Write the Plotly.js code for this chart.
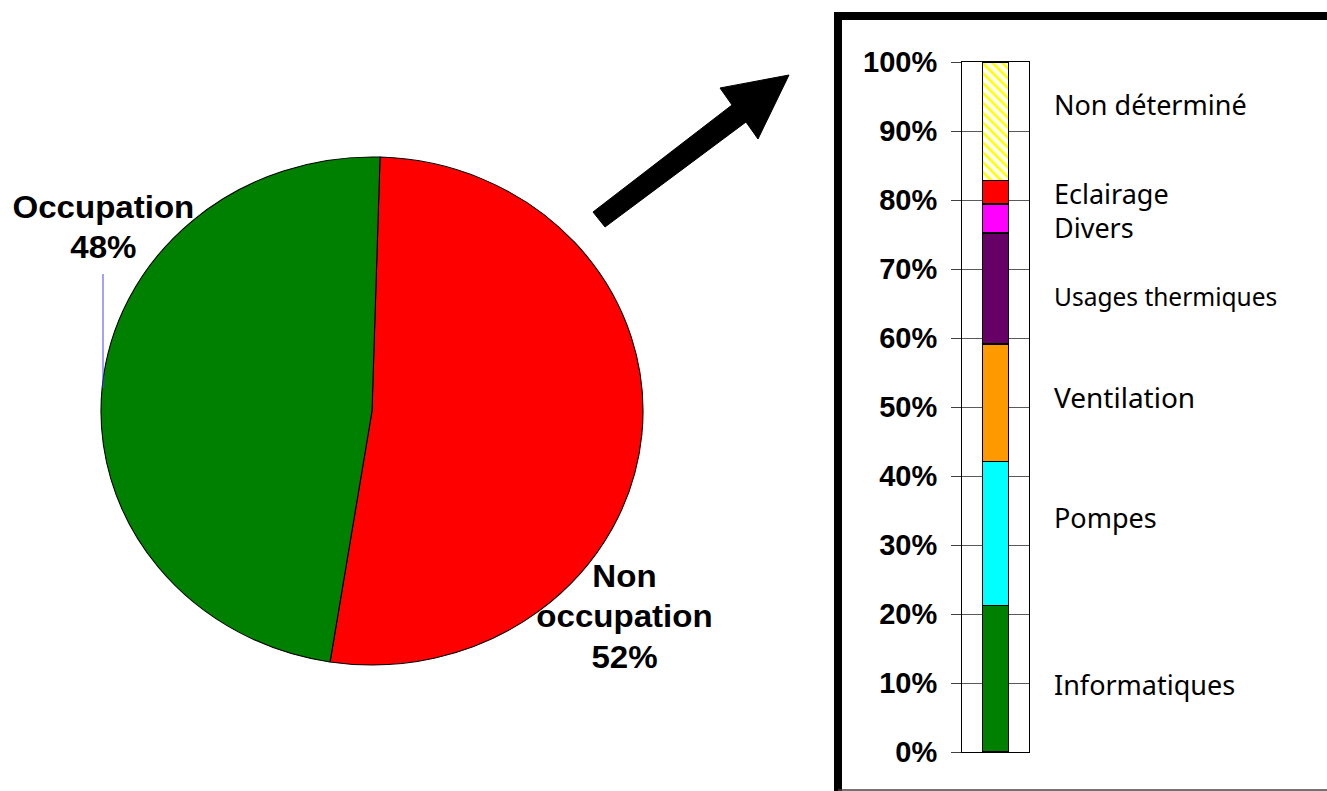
<!DOCTYPE html>
<html>
<head>
<meta charset="utf-8">
<script src="https://cdn.plot.ly/plotly-3.0.1.min.js"></script>
<style>
  html, body { margin: 0; padding: 0; background: #ffffff; }
  #wrap { position: relative; width: 1327px; height: 791px; overflow: hidden; background: #ffffff; }
  #pie { position: absolute; left: 0; top: 0; width: 1327px; height: 791px;
         transform: scaleX(1.067); transform-origin: 372px 411px; }
  #bar { position: absolute; left: 0; top: 0; width: 1327px; height: 791px; }
</style>
</head>
<body>
<div id="wrap">
  <div id="pie"></div>
  <div id="bar"></div>
</div>
<script>
// ---------- DATA ----------
const pieLabels = ['Non occupation', 'Occupation'];
const pieValues = [52, 48];
const pieColors = ['#FF0000', '#008000'];

const barCategories = ['Informatiques', 'Pompes', 'Ventilation', 'Usages thermiques', 'Divers', 'Eclairage', 'Non déterminé'];
const barValues = [21.2, 20.9, 17.0, 16.1, 4.2, 3.4, 17.2];
const barColors = ['#008000', '#00FFFF', '#FF9900', '#660066', '#FF00FF', '#FF0000', '#FFFF00'];

const yTickVals = [0, 10, 20, 30, 40, 50, 60, 70, 80, 90, 100];
const yTickText = ['0%', '10%', '20%', '30%', '40%', '50%', '60%', '70%', '80%', '90%', '100%'];

// ---------- LAYOUT HELPERS (pixel -> paper) ----------
const W = 1327, H = 791;
const px = x => x / W;
const py = y => 1 - y / H;

// label placement (pixel rows) and sizes for the category labels
const labelRows = [684, 517, 397, 296, 227, 193, 104];
const labelSizes = [27, 27, 28, 24.5, 27, 27, 27];

// ---------- PIE ----------
const pieTrace = {
  type: 'pie',
  labels: pieLabels,
  values: pieValues,
  sort: false,
  direction: 'clockwise',
  rotation: 1.7,
  textinfo: 'none',
  hoverinfo: 'skip',
  marker: { colors: pieColors, line: { color: '#000000', width: 1 } },
  domain: { x: [px(118), px(626)], y: [py(665), py(157)] }
};

const pieLabelPos = [[608, 617], [120, 227]];
const pieAnnotations = pieLabels.map((l, i) => ({
  xref: 'paper', yref: 'paper',
  x: px(pieLabelPos[i][0]), y: py(pieLabelPos[i][1]),
  xanchor: 'center', yanchor: 'middle',
  showarrow: false, align: 'center',
  text: l.replace(' ', '<br>') + '<br>' + pieValues[i] + '%',
  font: { family: 'Liberation Sans, Arial, sans-serif', size: 31, color: '#000000', weight: 'bold' }
}));

Plotly.newPlot('pie', [pieTrace], {
  width: W, height: H,
  margin: { l: 0, r: 0, t: 0, b: 0 },
  paper_bgcolor: 'rgba(0,0,0,0)',
  showlegend: false,
  annotations: pieAnnotations
}, { staticPlot: true, displayModeBar: false });

// ---------- STACKED BAR ----------
const barTraces = barCategories.map((c, i) => {
  const t = {
    type: 'bar',
    name: c,
    x: [0],
    y: [barValues[i]],
    width: 0.39,
    hoverinfo: 'skip',
    marker: { color: barColors[i], line: { color: '#000000', width: 1.5 } }
  };
  if (c === 'Non déterminé') {
    t.marker.color = '#FFFFFF';
    t.marker.pattern = { shape: '\\', fgcolor: barColors[i], bgcolor: '#FFFFFF', size: 7, solidity: 0.4 };
  }
  return t;
});

const barAnnotations = barCategories.map((c, i) => ({
  xref: 'paper', yref: 'paper',
  x: px(1052), y: py(labelRows[i]),
  xanchor: 'left', yanchor: 'middle',
  showarrow: false,
  text: c,
  font: { family: 'Noto Sans, Open Sans, sans-serif', size: labelSizes[i], color: '#000000' }
}));

// arrow polygon (pixels)
const arrowPts = [[593, 212], [732, 105], [720, 88], [789, 75], [758, 139], [746, 122], [605, 227]];
const arrowPath = 'M ' + arrowPts.map(p => px(p[0]).toFixed(5) + ',' + py(p[1]).toFixed(5)).join(' L ') + ' Z';

const shapes = [
  // arrow
  { type: 'path', xref: 'paper', yref: 'paper', path: arrowPath,
    fillcolor: '#000000', line: { color: '#000000', width: 1 } },
  // box frame (left + top thick, bottom thin)
  { type: 'line', xref: 'paper', yref: 'paper', x0: px(838), x1: px(838), y0: py(12), y1: py(791),
    line: { color: '#000000', width: 8 } },
  { type: 'line', xref: 'paper', yref: 'paper', x0: px(834), x1: px(1327), y0: py(16), y1: py(16),
    line: { color: '#000000', width: 8 } },
  { type: 'line', xref: 'paper', yref: 'paper', x0: px(838), x1: px(1327), y0: py(790), y1: py(790),
    line: { color: '#444444', width: 1.5 } },
  // leader line of the "Occupation" label
  { type: 'line', xref: 'paper', yref: 'paper', x0: px(103), x1: px(103), y0: py(274), y1: py(388),
    line: { color: '#4444FF', width: 1 } }
];

Plotly.newPlot('bar', barTraces, {
  width: W, height: H,
  margin: { l: 0, r: 0, t: 0, b: 0 },
  paper_bgcolor: 'rgba(0,0,0,0)',
  plot_bgcolor: '#FFFFFF',
  showlegend: false,
  barmode: 'stack',
  xaxis: {
    domain: [px(962), px(1029)],
    range: [-0.5, 0.5],
    showticklabels: false, showgrid: false, zeroline: false, ticks: '',
    showline: true, mirror: true, linecolor: '#000000', linewidth: 1
  },
  yaxis: {
    domain: [py(752), py(62)],
    range: [0, 100],
    tickvals: yTickVals, ticktext: yTickText,
    showgrid: true, gridcolor: '#5a5a5a', gridwidth: 1,
    zeroline: false,
    ticks: 'outside', ticklen: 10, tickcolor: '#404040', tickwidth: 1,
    ticklabelstandoff: 8,
    tickfont: { family: 'Liberation Sans, Arial, sans-serif', size: 29, color: '#000000', weight: 'bold' },
    showline: true, mirror: true, linecolor: '#000000', linewidth: 1
  },
  annotations: barAnnotations,
  shapes: shapes
}, { staticPlot: true, displayModeBar: false });
</script>
</body>
</html>
